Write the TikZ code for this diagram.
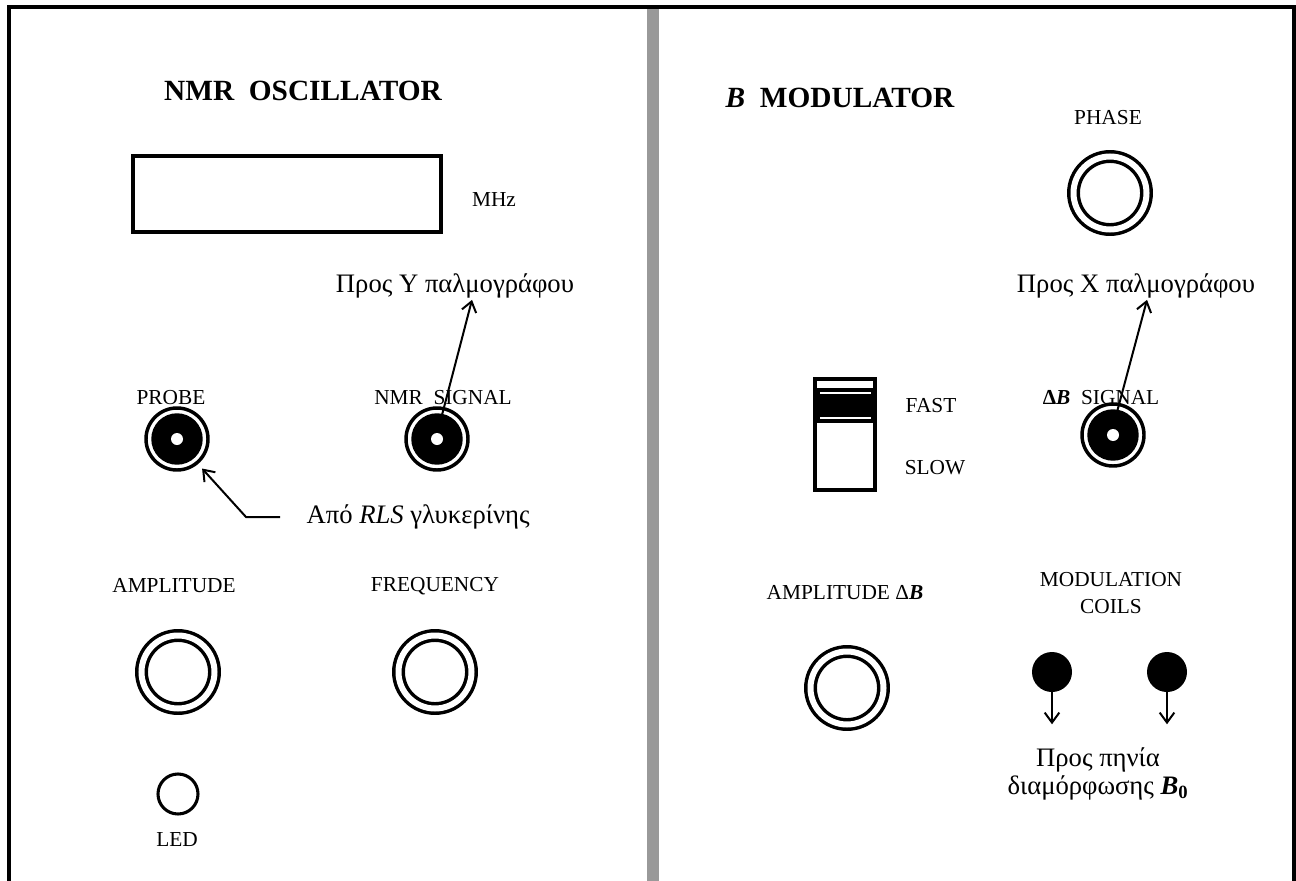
\documentclass[tikz,border=0pt]{standalone}
\usepackage{fontspec}
\setmainfont{Liberation Serif}
\usepackage{tikz}
\usetikzlibrary{arrows.meta, calc}
\definecolor{bargray}{RGB}{153,153,153}

\begin{document}
\begin{tikzpicture}[x=0.75pt, y=-0.75pt,
    lbl/.style={inner sep=1pt, font=\fontsize{16}{19}\selectfont},
    grk/.style={inner sep=1pt, font=\fontsize{20}{21}\selectfont},
    ttl/.style={inner sep=1pt, font=\fontsize{22}{26}\selectfont\bfseries},
    knob/.style={circle, draw, line width=2.6pt, double=white,
                 double distance=4.5pt, minimum size=54.75pt, inner sep=0pt},
    bnc/.style={circle, draw, line width=2.6pt, minimum size=46.5pt, inner sep=0pt,
                path picture={\fill[black] (path picture bounding box.center) circle (19.3pt);
                              \fill[white] (path picture bounding box.center) circle (4.5pt);}},
    coil/.style={circle, fill=black, minimum size=30pt, inner sep=0pt},
    sig/.style={line width=1.5pt, -{Straight Barb[length=7.5pt, width=11pt]}}]
  \useasboundingbox (0,0) rectangle (1296,881);

  % panel frame
  \fill[bargray] (647,5) rectangle (659,881);
  \draw[line width=3pt] (9,881) -- (9,7) -- (1294,7) -- (1294,881);

  % NMR oscillator
  \node[ttl] (osctitle) at (303,91) {NMR\ \ OSCILLATOR};
  \node[draw, line width=2.3pt, minimum width=231pt, minimum height=57pt,
        inner sep=0pt] (display) at (287,194) {};
  \node[lbl] (mhz) at (494,200) {MHz};

  \node[grk] (toY) at (455,286) {Προς Υ παλμογράφου};
  \node[lbl] (probelbl) at (171,398) {PROBE};
  \node[lbl] (nmrlbl) at (443,398) {NMR\ \ SIGNAL};
  \node[bnc] (probe) at (177,439) {};
  \node[bnc] (nmrsig) at (437,439) {};
  \draw[sig] ($(nmrsig.center)+(5,-24)$) -- ($(toY.south)+(17,0)$);

  \node[grk, anchor=west] (rls) at (305,517) {Από \textit{RLS} γλυκερίνης};
  \draw[sig, shorten >=4.5pt] ($(rls.west)+(-25,0)$) -- ++(-34,0) -- (probe.-50);

  \node[lbl] (amplbl) at (174,586) {AMPLITUDE};
  \node[lbl] (freqlbl) at (435,586) {FREQUENCY};
  \node[knob] (amp) at (178,672) {};
  \node[knob] (freq) at (435,672) {};

  \node[circle, draw, line width=2.3pt, minimum size=30pt, inner sep=0pt] (led) at (178,794) {};
  \node[lbl] (ledlbl) at (177,840) {LED};

  % B modulator
  \node[ttl] (modtitle) at (840,98) {\textit{B}\ \ MODULATOR};
  \node[lbl] (phaselbl) at (1108,118) {PHASE};
  \node[knob] (phase) at (1110,193) {};

  \node[grk] (toX) at (1136,286) {Προς Χ παλμογράφου};
  \node[lbl] (dblbl) at (1101,398) {\textbf{Δ\textit{B}}\ \ SIGNAL};
  \node[bnc] (dbsig) at (1113,435) {};
  \draw[sig] ($(dbsig.center)+(4,-23)$) -- ($(toX.south)+(11,0)$);

  % fast/slow switch
  \fill[black] (813,377) rectangle (877,492);
  \fill[white] (817,381) rectangle (873,388);
  \fill[white] (820,391.5) rectangle (871,394);
  \fill[white] (820,416.5) rectangle (871,419);
  \fill[white] (817,423) rectangle (873,488);
  \node[lbl] (fast) at (931,406) {FAST};
  \node[lbl] (slow) at (935,468) {SLOW};

  \node[lbl] (ampdblbl) at (845,593) {AMPLITUDE Δ\textbf{\textit{B}}};
  \node[knob] (ampdb) at (847,688) {};

  \node[lbl, align=center] (coilslbl) at (1111,593) {MODULATION\\[1pt]COILS};
  \node[coil] (coilA) at (1052,672) {};
  \node[coil] (coilB) at (1167,672) {};
  \draw[sig] (coilA.south) -- ++(0,32);
  \draw[sig] (coilB.south) -- ++(0,32);
  \node[grk, align=center] (tocoils) at (1098,774)
       {Προς πηνία\\διαμόρφωσης \textbf{\textit{B}\textsubscript{0}}};
\end{tikzpicture}
\end{document}
